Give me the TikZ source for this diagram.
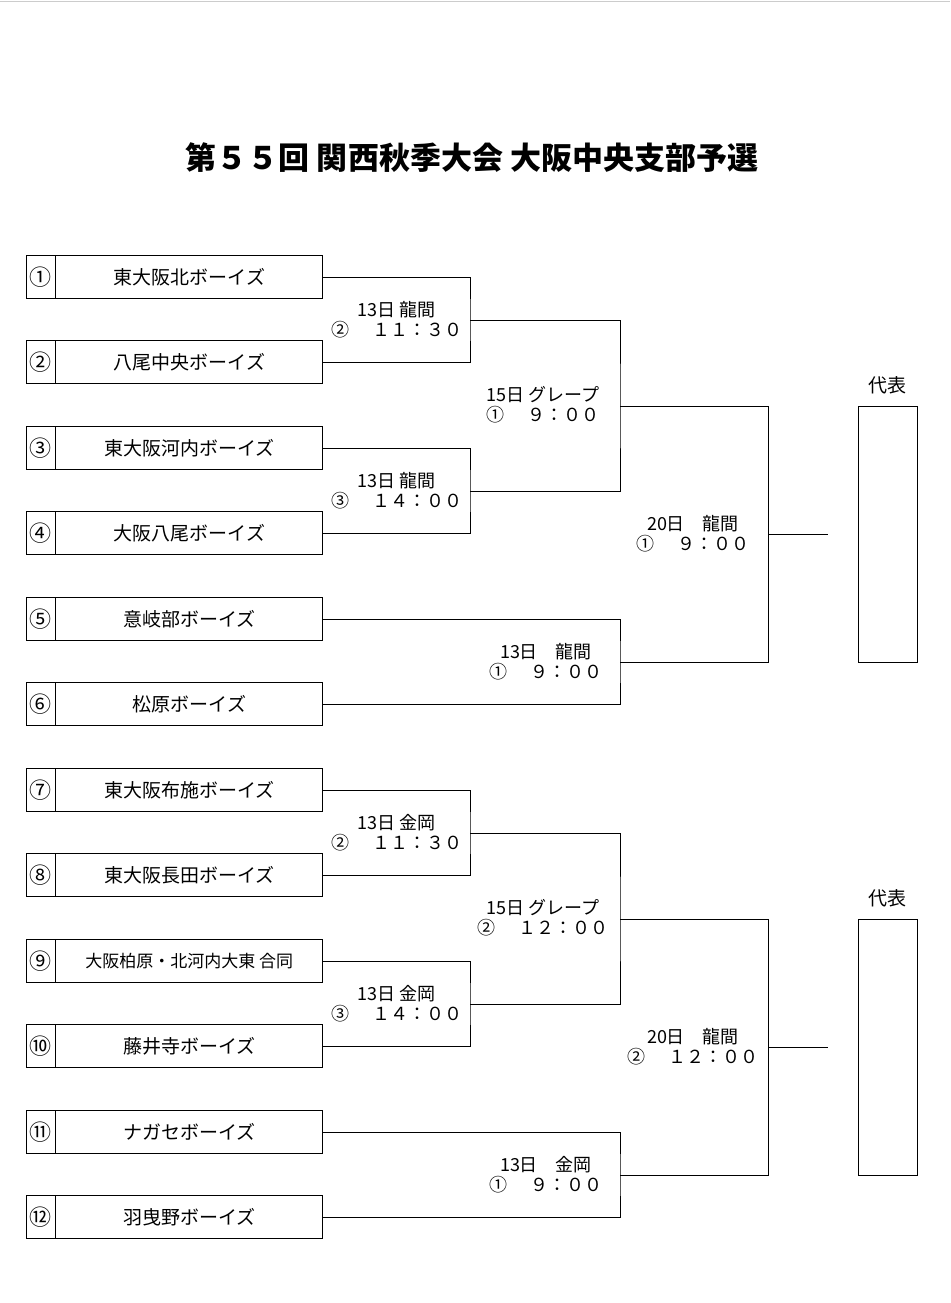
\documentclass[tikz,border=0pt]{standalone}
\usepackage{fontspec}
\setmainfont{Noto Sans CJK JP}
\usetikzlibrary{positioning}

\tikzset{
    numbox/.style={draw, thick, minimum width=29pt, minimum height=43pt, inner sep=0pt, font=\fontsize{22}{22}\selectfont},
    teambox/.style={draw, thick, minimum width=267pt, minimum height=43pt, inner sep=0pt, font=\fontsize{19}{19}\selectfont},
    line/.style={thick},
    lab/.style={font=\fontsize{18}{20}\selectfont, align=center, inner sep=0pt},
}

\begin{document}
\begin{tikzpicture}[x=1pt, y=-1pt]
    \useasboundingbox (0,0) rectangle (950,1303);
    \draw[gray!40] (0,1) -- (950,1);

    % title
    \node[font=\fontsize{31}{31}\selectfont\bfseries] (title) at (472,158) {第５５回 関西秋季大会 大阪中央支部予選};

    % teams
    \foreach \i/\y/\nm/\nn in {1/277/東大阪北ボーイズ/①, 2/362/八尾中央ボーイズ/②,
        3/448/東大阪河内ボーイズ/③, 4/533/大阪八尾ボーイズ/④,
        5/619/意岐部ボーイズ/⑤, 6/704/松原ボーイズ/⑥,
        7/790/東大阪布施ボーイズ/⑦, 8/875/東大阪長田ボーイズ/⑧,
        9/961/{\fontsize{17}{17}\selectfont 大阪柏原・北河内大東 合同}/⑨, 10/1046/藤井寺ボーイズ/⑩,
        11/1132/ナガセボーイズ/⑪, 12/1217/羽曳野ボーイズ/⑫}{
        \node[numbox] (n\i) at (40.5,\y) {\nn};
        \node[teambox, right=0pt of n\i] (t\i) {\nm};
    }

    % brackets
    \foreach \h/\a/\b/\c/\d/\e/\f/\o in {A/1/2/3/4/5/6/0, B/7/8/9/10/11/12/513}{
        \coordinate (p\h) at (470,320+\o);
        \coordinate (q\h) at (470,491+\o);
        \coordinate (r\h) at (620,406+\o);
        \coordinate (s\h) at (620,662+\o);
        \coordinate (w\h) at (768,534+\o);
        \coordinate (z\h) at (828,534+\o);
        \draw[line] (t\a.east) -| (pA |- p\h) |- (t\b.east);
        \draw[line] (t\c.east) -| (pA |- q\h) |- (t\d.east);
        \draw[line] (p\h) -| (r\h) |- (q\h);
        \draw[line] (t\e.east) -| (s\h) |- (t\f.east);
        \draw[line] (r\h) -| (w\h) |- (s\h);
        \draw[line] (w\h) -- (z\h);
        \node[draw, thick, minimum width=59pt, minimum height=256pt, inner sep=0pt] (rep\h) at (887.5,534+\o) {};
        \node[lab, font=\fontsize{19}{19}\selectfont] (rl\h) at (887,385+\o) {代表};
    }

    % match labels
    \node[lab] (m1) at (397,320) {13日 龍間\\②　 １１：３０};
    \node[lab] (m2) at (397,491) {13日 龍間\\③　 １４：００};
    \node[lab] (m3) at (543,405) {15日 グレープ\\①　 ９：００};
    \node[lab] (m4) at (546,662) {13日　龍間\\①　 ９：００};
    \node[lab] (m5) at (693,534) {20日　龍間\\①　 ９：００};

    \node[lab] (m6) at (397,833) {13日 金岡\\②　 １１：３０};
    \node[lab] (m7) at (397,1004) {13日 金岡\\③　 １４：００};
    \node[lab] (m8) at (543,918) {15日 グレープ\\②　 １２：００};
    \node[lab] (m9) at (546,1175) {13日　金岡\\①　 ９：００};
    \node[lab] (m10) at (693,1047) {20日　龍間\\②　 １２：００};
\end{tikzpicture}
\end{document}
